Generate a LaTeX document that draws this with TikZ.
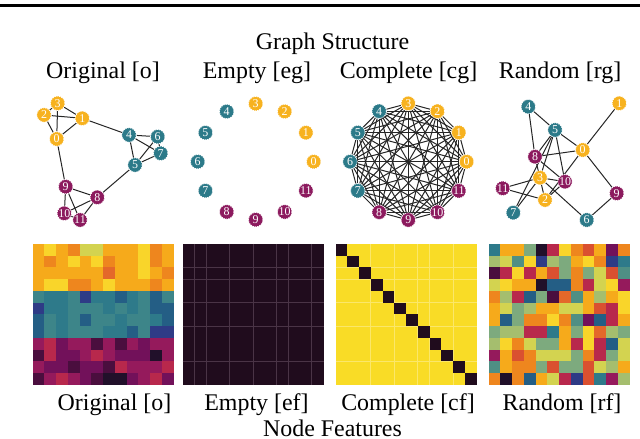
\documentclass[tikz,border=0pt]{standalone}
\usepackage{fontspec}
\setmainfont{Liberation Serif}
\usetikzlibrary{calc}
\pgfdeclarelayer{bg}
\pgfsetlayers{bg,main}
% heatmap palette
\definecolor{hma}{HTML}{21102A}
\definecolor{hmb}{HTML}{4A0E3E}
\definecolor{hmc}{HTML}{72115A}
\definecolor{hmd}{HTML}{951A5C}
\definecolor{hme}{HTML}{B8284C}
\definecolor{hmf}{HTML}{DA5030}
\definecolor{hmg}{HTML}{EE861E}
\definecolor{hmh}{HTML}{F6AA1B}
\definecolor{hmi}{HTML}{F9D52A}
\definecolor{hmj}{HTML}{D3D350}
\definecolor{hmk}{HTML}{A5BE6E}
\definecolor{hml}{HTML}{7DAA7E}
\definecolor{hmm}{HTML}{4F8F84}
\definecolor{hmn}{HTML}{2E7A8A}
\definecolor{hmo}{HTML}{245E85}
\definecolor{hmp}{HTML}{2E3B86}
\definecolor{hmq}{HTML}{E4682A}
\definecolor{hmr}{HTML}{3D8589}
\definecolor{nyel}{HTML}{F7B21F}
\definecolor{nteal}{HTML}{2C7A89}
\definecolor{nmag}{HTML}{8C1A5E}
\definecolor{emptyfill}{HTML}{200C1D}
\definecolor{emptygrid}{HTML}{4A3446}
\definecolor{fullfill}{HTML}{F9DC26}
\definecolor{fullgrid}{HTML}{FBE76A}
\tikzstyle{gnode} = [circle, draw=white, dash pattern=on 0.6bp off 0.5bp, line width=0.35bp, inner sep=0pt, minimum size=7.2bp, text=white, font=\fontsize{6}{6}\selectfont]
\tikzstyle{ngrp0} = [fill=nyel]
\tikzstyle{ngrp1} = [fill=nteal]
\tikzstyle{ngrp2} = [fill=nmag]
\tikzstyle{gedge} = [draw=black!85, line width=0.5bp]
\tikzstyle{lbl} = [anchor=base, inner sep=0pt, font=\fontsize{12}{14}\selectfont]
\newcommand{\cw}{11.75}

\begin{document}
\begin{tikzpicture}[x=0.5bp, y=-0.5bp]
    \useasboundingbox (0,0) rectangle (640,439);
    \draw[line width=1.25bp] (0,5.3) -- (640,5.3);

    \node[lbl] (gtitle) at (332.5,50) {Graph Structure};
    \node[lbl] (tlo) at (103,78.5) {Original [o]};
    \node[lbl] (tle) at (257,78.5) {Empty [eg]};
    \node[lbl] (tlc) at (408.5,78.5) {Complete [cg]};
    \node[lbl] (tlr) at (560,78.5) {Random [rg]};

    % original graph
    \foreach \k/\x/\y in {0/56.7/139, 1/82.3/118.3, 2/44/115, 3/57.7/103.3,
        4/129/135, 5/135/165, 6/157.7/136.7, 7/160.7/153.3,
        8/97.3/197.3, 9/65.7/186.7, 10/64.3/213.3, 11/80/220} {
        \pgfmathtruncatemacro\grp{\k/4}
        \node[gnode, ngrp\grp] (o\k) at (\x,\y) {\k};
    }
    % empty graph
    \coordinate (ec) at (255.7,161.7);
    \foreach \k in {0,...,11} {
        \pgfmathtruncatemacro\grp{\k/4}
        \node[gnode, ngrp\grp] (e\k) at ($(ec)+(-30*\k:58)$) {\k};
    }
    % complete graph
    \coordinate (cc) at (408.3,161.7);
    \foreach \k in {0,...,11} {
        \pgfmathtruncatemacro\grp{\k/4}
        \node[gnode, ngrp\grp] (c\k) at ($(cc)+(-30*\k:58.3)$) {\k};
    }
    % random graph
    \foreach \k/\x/\y in {0/582.7/150, 1/619.3/103.3, 2/545/200, 3/540/177.7,
        4/528.3/106.7, 5/555/130, 6/586.7/220, 7/513.3/212.7,
        8/535/156.7, 9/616.7/193.3, 10/565/181.7, 11/502.7/188.3} {
        \pgfmathtruncatemacro\grp{\k/4}
        \node[gnode, ngrp\grp] (r\k) at (\x,\y) {\k};
    }

    \begin{pgfonlayer}{bg}
        \foreach \a/\b in {3/2, 3/1, 3/0, 2/1, 2/0, 1/0, 1/4, 0/9, 4/6, 4/7, 4/5,
            6/5, 6/7, 7/5, 5/8, 9/8, 9/10, 9/11, 8/10, 8/11, 10/11}
            \draw[gedge] (o\a) -- (o\b);
        \foreach \a in {0,...,10} {
            \pgfmathtruncatemacro\nxt{\a+1}
            \foreach \b in {\nxt,...,11}
                \draw[gedge] (c\a) -- (c\b);
        }
        \foreach \a/\b in {4/5, 4/8, 1/0, 5/0, 5/8, 5/3, 5/7, 5/10, 8/0, 8/2, 8/10,
            0/2, 0/9, 3/11, 3/10, 3/6, 3/7, 11/2, 9/6, 2/10}
            \draw[gedge] (r\a) -- (r\b);
    \end{pgfonlayer}

    % node features: original
    \coordinate (hmorig) at (32.5,244);
    \begin{scope}[shift={(hmorig)}]
        \foreach \row [count=\r from 0] in {
            {h,i,h,g,j,j,h,h,h,i,g,h}, {h,g,h,i,h,i,g,h,h,i,g,h},
            {h,h,h,h,h,h,q,h,h,i,h,g}, {h,i,i,g,g,h,i,h,h,h,g,h},
            {r,n,n,r,p,n,n,o,n,r,o,r}, {p,n,n,r,r,r,n,r,n,r,o,o},
            {o,r,n,r,o,r,r,n,r,r,n,o}, {o,r,n,r,r,r,n,n,o,r,p,p},
            {d,e,c,d,d,b,d,b,d,c,d,d}, {b,e,c,c,d,e,d,c,c,c,a,d},
            {d,c,c,b,c,c,b,e,d,d,d,e}, {b,d,e,d,c,b,a,a,c,d,e,c}}
            \foreach \c [count=\k from 0] in \row
                \fill[hm\c] (\k*\cw,\r*\cw) rectangle ++(\cw,\cw);
    \end{scope}

    % node features: empty
    \coordinate (hmempty) at (182.5,244);
    \begin{scope}[shift={(hmempty)}]
        \fill[emptyfill] (0,0) rectangle (141,141);
        \foreach \k in {1,2,4,6,8,9,11}
            \draw[emptygrid, line width=0.5bp] (\k*\cw,0) -- (\k*\cw,141);
        \foreach \r in {2,3,5,7,10}
            \draw[emptygrid, line width=0.5bp] (0,\r*\cw) -- (141,\r*\cw);
    \end{scope}

    % node features: complete
    \coordinate (hmfull) at (335.5,244);
    \begin{scope}[shift={(hmfull)}]
        \fill[fullfill] (0,0) rectangle (141,141);
        \foreach \k in {3,5,7,8,10}
            \draw[fullgrid, line width=0.5bp] (\k*\cw,0) -- (\k*\cw,141);
        \foreach \r in {2,3,5,7,10}
            \draw[fullgrid, line width=0.5bp] (0,\r*\cw) -- (141,\r*\cw);
        \foreach \k in {0,...,11}
            \fill[emptyfill] (\k*\cw,\k*\cw) rectangle ++(\cw,\cw);
    \end{scope}

    % node features: random
    \coordinate (hmrand) at (488.5,244);
    \begin{scope}[shift={(hmrand)}]
        \foreach \row [count=\r from 0] in {
            {n,h,h,l,a,e,i,g,f,h,c,g}, {k,j,m,i,p,k,l,h,i,g,p,n},
            {b,e,i,e,h,f,l,g,l,j,f,m}, {j,i,h,h,a,o,o,g,e,j,i,d},
            {g,k,e,o,l,b,q,m,h,k,h,i}, {h,j,l,k,h,h,j,j,h,f,e,i},
            {h,o,l,g,g,i,g,m,c,o,e,h}, {l,k,k,e,e,n,h,l,i,q,k,l},
            {k,i,g,j,l,l,h,e,i,e,o,j}, {d,h,f,g,j,j,j,l,g,e,l,j},
            {m,h,g,g,l,f,l,l,f,j,k,h}, {g,a,g,o,h,j,e,p,f,n,d,k}}
            \foreach \c [count=\k from 0] in \row
                \fill[hm\c] (\k*\cw,\r*\cw) rectangle ++(\cw,\cw);
    \end{scope}

    \node[lbl] (blo) at (114.5,411) {Original [o]};
    \node[lbl] (ble) at (256.5,411) {Empty [ef]};
    \node[lbl] (blc) at (408,411) {Complete [cf]};
    \node[lbl] (blr) at (562,411) {Random [rf]};
    \node[lbl] (ftitle) at (332.5,436.5) {Node Features};
\end{tikzpicture}
\end{document}
